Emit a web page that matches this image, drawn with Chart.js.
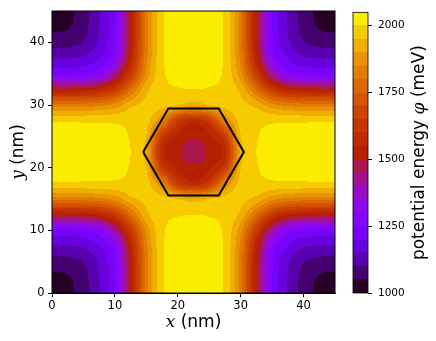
<!DOCTYPE html>
<html>
<head>
<meta charset="utf-8">
<script src="https://cdn.jsdelivr.net/npm/chart.js@4/dist/chart.umd.min.js"></script>
<style>
  html, body { margin: 0; padding: 0; background: #fff; }
  #wrap { position: relative; width: 436px; height: 341px; }
  #main { position: absolute; left: 0; top: 0; width: 345px; height: 341px; }
  #cbar { position: absolute; left: 345px; top: 0; width: 91px; height: 341px; }
</style>
</head>
<body>
<div id="wrap">
  <canvas id="main" width="345" height="341"></canvas>
  <canvas id="cbar" width="91" height="341"></canvas>
</div>
<script>
// grid positions (nm)
const gridX = [0, 2.5, 5, 7.5, 10, 12.5, 15, 17.5, 20, 22.5, 25, 27.5, 30, 32.5, 35, 37.5, 40, 42.5, 45];
const gridY = [0, 2.5, 5, 7.5, 10, 12.5, 15, 17.5, 20, 22.5, 25, 27.5, 30, 32.5, 35, 37.5, 40, 42.5, 45];

// potential energy (meV), one row per gridY value (bottom to top)
const potential = [
  [1000,1035,1080,1147,1250,1515,1820,1990,2020,2030,2020,1990,1820,1515,1250,1147,1080,1035,1000],
  [1035,1045,1083,1148,1251,1515,1820,1990,2020,2030,2020,1990,1820,1515,1251,1148,1083,1045,1035],
  [1080,1083,1103,1160,1260,1522,1822,1990,2020,2030,2020,1990,1822,1522,1260,1160,1103,1083,1080],
  [1147,1148,1160,1200,1290,1550,1835,1990,2017,2027,2017,1990,1835,1550,1290,1200,1160,1148,1147],
  [1250,1251,1260,1290,1420,1635,1867,1989,2010,2019,2010,1989,1867,1635,1420,1290,1260,1251,1250],
  [1515,1515,1522,1550,1635,1790,1934,1986,1996,2000,1996,1986,1934,1790,1635,1550,1522,1515,1515],
  [1820,1820,1822,1835,1867,1934,1966,1970,1948,1915,1948,1970,1966,1934,1867,1835,1822,1820,1820],
  [1990,1990,1990,1990,1989,1986,1970,1843,1640,1575,1640,1843,1970,1986,1989,1990,1990,1990,1990],
  [2020,2020,2020,2017,2010,1996,1948,1640,1540,1512,1540,1640,1948,1996,2010,2017,2020,2020,2020],
  [2030,2030,2030,2027,2019,2000,1915,1575,1512,1468,1512,1575,1915,2000,2019,2027,2030,2030,2030],
  [2020,2020,2020,2017,2010,1996,1948,1640,1540,1512,1540,1640,1948,1996,2010,2017,2020,2020,2020],
  [1990,1990,1990,1990,1989,1986,1970,1843,1640,1575,1640,1843,1970,1986,1989,1990,1990,1990,1990],
  [1820,1820,1822,1835,1867,1934,1966,1970,1948,1915,1948,1970,1966,1934,1867,1835,1822,1820,1820],
  [1515,1515,1522,1550,1635,1790,1934,1986,1996,2000,1996,1986,1934,1790,1635,1550,1522,1515,1515],
  [1250,1251,1260,1290,1420,1635,1867,1989,2010,2019,2010,1989,1867,1635,1420,1290,1260,1251,1250],
  [1147,1148,1160,1200,1290,1550,1835,1990,2017,2027,2017,1990,1835,1550,1290,1200,1160,1148,1147],
  [1080,1083,1103,1160,1260,1522,1822,1990,2020,2030,2020,1990,1822,1522,1260,1160,1103,1083,1080],
  [1035,1045,1083,1148,1251,1515,1820,1990,2020,2030,2020,1990,1820,1515,1251,1148,1083,1045,1035],
  [1000,1035,1080,1147,1250,1515,1820,1990,2020,2030,2020,1990,1820,1515,1250,1147,1080,1035,1000]
];

// contour levels (meV)
const levels = [1000,1050,1100,1150,1200,1250,1300,1350,1400,1450,1500,1550,1600,1650,1700,1750,1800,1850,1900,1950,2000,2050];

// hexagon outline (nm)
const hexX = [14.5, 18.5, 26.5, 30.5, 26.5, 18.5, 14.5];
const hexY = [22.5, 29.43, 29.43, 22.5, 15.57, 15.57, 22.5];

const xTicks = [0, 10, 20, 30, 40];
const yTicks = [0, 10, 20, 30, 40];
const cbarTicks = [1000, 1250, 1500, 1750, 2000];

Chart.defaults.font.family = '"DejaVu Sans", sans-serif';
Chart.defaults.color = '#000';

// matplotlib "gnuplot" colormap
function gnuplot(t) {
  const r = Math.sqrt(t);
  const g = t * t * t;
  const b = Math.max(0, Math.sin(2 * Math.PI * t));
  return [Math.round(255 * r), Math.round(255 * g), Math.round(255 * b)];
}
const lo = levels[0], hi = levels[levels.length - 1];
const bandRGB = [];
for (let k = 0; k < levels.length - 1; k++) {
  bandRGB.push(gnuplot(((levels[k] + levels[k + 1]) / 2 - lo) / (hi - lo)));
}
const rgbStr = (c) => `rgb(${c[0]},${c[1]},${c[2]})`;

function bandIndex(v) {
  for (let k = levels.length - 2; k >= 0; k--) {
    if (v >= levels[k]) return k;
  }
  return 0;
}

// bicubic (Catmull-Rom) sampling, grid is periodic
const nCells = gridX.length - 1;
const step = gridX[1] - gridX[0];
const wrap = (i) => ((i % nCells) + nCells) % nCells;
function cubic(p0, p1, p2, p3, t) {
  return p1 + 0.5 * t * (p2 - p0 + t * (2 * p0 - 5 * p1 + 4 * p2 - p3 + t * (3 * (p1 - p2) + p3 - p0)));
}
function sample(xv, yv) {
  const fx = (xv - gridX[0]) / step, fy = (yv - gridY[0]) / step;
  const i = Math.floor(fx), j = Math.floor(fy);
  const tx = fx - i, ty = fy - j;
  const col = [];
  for (let m = -1; m <= 2; m++) {
    const row = potential[wrap(j + m)];
    col.push(cubic(row[wrap(i - 1)], row[wrap(i)], row[wrap(i + 1)], row[wrap(i + 2)], tx));
  }
  return cubic(col[0], col[1], col[2], col[3], ty);
}

const contourFill = {
  id: 'contourFill',
  beforeDatasetsDraw(chart) {
    const { ctx, chartArea: a, scales } = chart;
    const w = Math.round(a.right - a.left), h = Math.round(a.bottom - a.top);
    const off = document.createElement('canvas');
    off.width = w; off.height = h;
    const octx = off.getContext('2d');
    const img = octx.createImageData(w, h);
    for (let py = 0; py < h; py++) {
      const yv = scales.y.getValueForPixel(a.top + py + 0.5);
      for (let px = 0; px < w; px++) {
        const xv = scales.x.getValueForPixel(a.left + px + 0.5);
        const c = bandRGB[bandIndex(sample(xv, yv))];
        const o = (py * w + px) * 4;
        img.data[o] = c[0]; img.data[o + 1] = c[1]; img.data[o + 2] = c[2]; img.data[o + 3] = 255;
      }
    }
    octx.putImageData(img, 0, 0);
    ctx.drawImage(off, a.left, a.top, a.right - a.left, a.bottom - a.top);
  }
};

// mixed-font text (italic math symbol + plain text)
function drawPieces(ctx, pieces, cx, cy, rot) {
  ctx.save();
  ctx.translate(cx, cy);
  if (rot) ctx.rotate(rot);
  ctx.textBaseline = 'middle';
  ctx.fillStyle = '#000';
  let total = 0;
  pieces.forEach(p => { ctx.font = p.font; total += ctx.measureText(p.text).width; });
  let x = -total / 2;
  pieces.forEach(p => {
    ctx.font = p.font;
    ctx.textAlign = 'left';
    ctx.fillText(p.text, x, 0);
    x += ctx.measureText(p.text).width;
  });
  ctx.restore();
}

const frameAndTitles = {
  id: 'frameAndTitles',
  afterDraw(chart) {
    const { ctx, chartArea: a } = chart;
    ctx.save();
    ctx.strokeStyle = '#000';
    ctx.lineWidth = 1;
    ctx.strokeRect(a.left, a.top, a.right - a.left, a.bottom - a.top);
    ctx.restore();
    const it = 'italic 17px "DejaVu Serif"', rg = '17px "DejaVu Sans"';
    drawPieces(ctx, [{ text: 'x', font: it }, { text: ' (nm)', font: rg }], (a.left + a.right) / 2, 323, 0);
    drawPieces(ctx, [{ text: 'y', font: it }, { text: ' (nm)', font: rg }], 19, (a.top + a.bottom) / 2, -Math.PI / 2);
  }
};

new Chart(document.getElementById('main'), {
  type: 'scatter',
  data: {
    datasets: [{
      data: hexX.map((x, i) => ({ x, y: hexY[i] })),
      showLine: true,
      borderColor: '#000',
      borderWidth: 2,
      pointRadius: 0,
      tension: 0,
      fill: false
    }]
  },
  options: {
    responsive: false,
    animation: false,
    layout: { padding: { left: 0, top: 11, right: 10, bottom: 0 } },
    plugins: { legend: { display: false }, tooltip: { enabled: false } },
    scales: {
      x: {
        type: 'linear', min: 0, max: 45,
        afterBuildTicks: (s) => { s.ticks = xTicks.map(v => ({ value: v })); },
        afterFit: (s) => { s.height = 48; },
        grid: { drawOnChartArea: false, tickLength: 4, color: '#000' },
        border: { color: '#000' },
        ticks: { font: { size: 11.5 }, padding: 2, color: '#000', callback: (v) => String(v) }
      },
      y: {
        type: 'linear', min: 0, max: 45,
        afterBuildTicks: (s) => { s.ticks = yTicks.map(v => ({ value: v })); },
        afterFit: (s) => { s.width = 52; },
        grid: { drawOnChartArea: false, tickLength: 4, color: '#000' },
        border: { color: '#000' },
        ticks: { font: { size: 11.5 }, padding: 3.5, color: '#000', callback: (v) => String(v) }
      }
    }
  },
  plugins: [contourFill, frameAndTitles]
});

// colorbar
const cbarFrame = {
  id: 'cbarFrame',
  afterDraw(chart) {
    const { ctx, chartArea: a } = chart;
    ctx.save();
    ctx.strokeStyle = '#000';
    ctx.lineWidth = 0.8;
    ctx.strokeRect(a.left, a.top, a.right - a.left, a.bottom - a.top);
    ctx.restore();
    drawPieces(ctx, [
      { text: 'potential energy ', font: '17px "DejaVu Sans"' },
      { text: '\u03c6', font: 'italic 17px "DejaVu Serif"' },
      { text: ' (meV)', font: '17px "DejaVu Sans"' }
    ], 75, (a.top + a.bottom) / 2, -Math.PI / 2);
  }
};

new Chart(document.getElementById('cbar'), {
  type: 'bar',
  data: {
    labels: [''],
    datasets: bandRGB.map((c, k) => ({
      data: [[levels[k], levels[k + 1]]],
      backgroundColor: rgbStr(c),
      borderWidth: 0,
      barPercentage: 1,
      categoryPercentage: 1
    }))
  },
  options: {
    responsive: false,
    animation: false,
    layout: { padding: { left: 8, top: 11, right: 28, bottom: 48 } },
    plugins: { legend: { display: false }, tooltip: { enabled: false } },
    scales: {
      x: { stacked: true, display: false },
      y: {
        position: 'right', min: levels[0], max: levels[levels.length - 1],
        afterBuildTicks: (s) => { s.ticks = cbarTicks.map(v => ({ value: v })); },
        afterFit: (s) => { s.width = 40; },
        grid: { drawOnChartArea: false, tickLength: 4, color: '#000' },
        border: { display: false },
        ticks: { font: { size: 10.5 }, padding: 6, color: '#000', callback: (v) => String(v) }
      }
    }
  },
  plugins: [cbarFrame]
});
</script>
</body>
</html>
